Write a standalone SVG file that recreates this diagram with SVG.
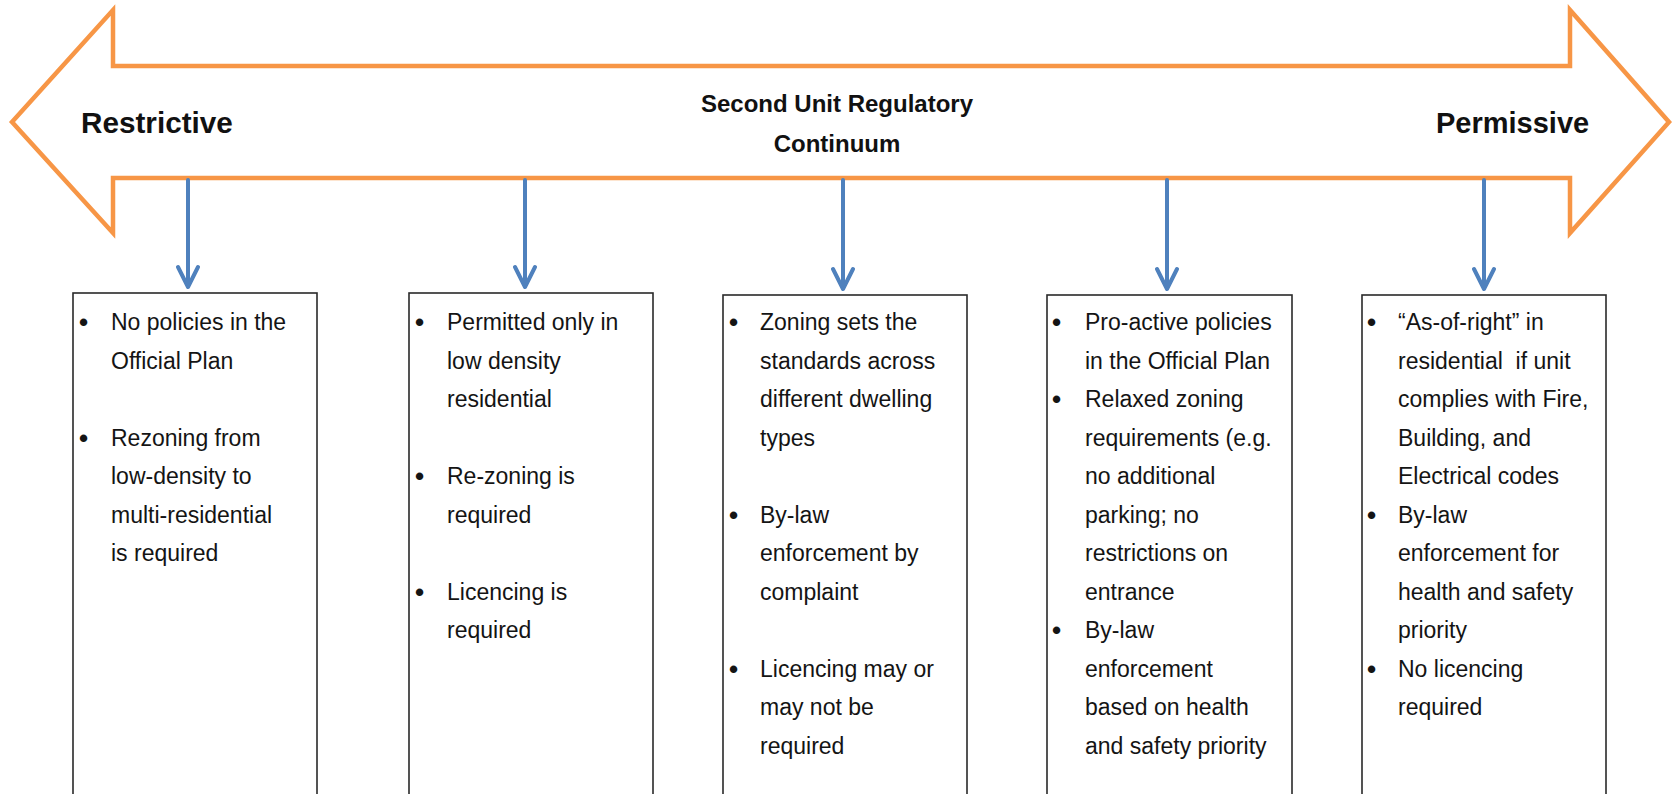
<svg xmlns="http://www.w3.org/2000/svg" width="1674" height="794" viewBox="0 0 1674 794">
<defs>
<style>
.band{fill:#ffffff;stroke:#F79646;stroke-width:4.5;stroke-linejoin:miter}
.lbl{font-family:"Liberation Sans",Arial,sans-serif;font-weight:bold;fill:#111111}
.box{fill:#ffffff;stroke:#2a2a2a;stroke-width:1.6}
.txt{font-family:"Liberation Sans",Arial,sans-serif;font-size:23px;fill:#141414}
.b{font-weight:bold;font-size:26px}
.conn{stroke:#4F81BD;stroke-width:4;fill:none;stroke-linecap:round;stroke-linejoin:round}
</style>
</defs>
<rect width="1674" height="794" fill="#ffffff"/>
<g id="continuum">
<polygon class="band" points="12,122 113,10 113,66 1570,66 1570,10 1669,122 1570,233 1570,178 113,178 113,233"/>
<text class="lbl" x="81" y="133" font-size="29.7">Restrictive</text>
<text class="lbl" x="1436" y="133" font-size="29">Permissive</text>
<text class="lbl" x="837" y="112" font-size="24" text-anchor="middle">Second Unit Regulatory</text>
<text class="lbl" x="837" y="152" font-size="24" text-anchor="middle">Continuum</text>
</g>
<g id="connectors">
<path class="conn" d="M188,180 V287 M178,267 L188,287 L198,267"/>
<path class="conn" d="M525,180 V287 M515,267 L525,287 L535,267"/>
<path class="conn" d="M843,180 V289 M833,269 L843,289 L853,269"/>
<path class="conn" d="M1167,180 V289 M1157,269 L1167,289 L1177,269"/>
<path class="conn" d="M1484,180 V289 M1474,269 L1484,289 L1494,269"/>
</g>
<g id="box1">
<rect class="box" x="73" y="293" width="244" height="520"/>
<g class="txt">
<text class="b" x="79" y="331">•</text><text x="111" y="330">No policies in the</text>
<text x="111" y="368.5">Official Plan</text>
<text class="b" x="79" y="446.5">•</text><text x="111" y="445.5">Rezoning from</text>
<text x="111" y="484">low-density to</text>
<text x="111" y="522.5">multi-residential</text>
<text x="111" y="561">is required</text>
</g>
</g>
<g id="box2">
<rect class="box" x="409" y="293" width="244" height="520"/>
<g class="txt">
<text class="b" x="415" y="331">•</text><text x="447" y="330">Permitted only in</text>
<text x="447" y="368.5">low density</text>
<text x="447" y="407">residential</text>
<text class="b" x="415" y="485">•</text><text x="447" y="484">Re-zoning is</text>
<text x="447" y="522.5">required</text>
<text class="b" x="415" y="600.5">•</text><text x="447" y="599.5">Licencing is</text>
<text x="447" y="638">required</text>
</g>
</g>
<g id="box3">
<rect class="box" x="723" y="295" width="244" height="520"/>
<g class="txt">
<text class="b" x="729" y="331">•</text><text x="760" y="330">Zoning sets the</text>
<text x="760" y="368.5">standards across</text>
<text x="760" y="407">different dwelling</text>
<text x="760" y="445.5">types</text>
<text class="b" x="729" y="523.5">•</text><text x="760" y="522.5">By-law</text>
<text x="760" y="561">enforcement by</text>
<text x="760" y="599.5">complaint</text>
<text class="b" x="729" y="677.5">•</text><text x="760" y="676.5">Licencing may or</text>
<text x="760" y="715">may not be</text>
<text x="760" y="753.5">required</text>
</g>
</g>
<g id="box4">
<rect class="box" x="1047" y="295" width="245" height="520"/>
<g class="txt">
<text class="b" x="1052" y="331">•</text><text x="1085" y="330">Pro-active policies</text>
<text x="1085" y="368.5">in the Official Plan</text>
<text class="b" x="1052" y="408">•</text><text x="1085" y="407">Relaxed zoning</text>
<text x="1085" y="445.5">requirements (e.g.</text>
<text x="1085" y="484">no additional</text>
<text x="1085" y="522.5">parking; no</text>
<text x="1085" y="561">restrictions on</text>
<text x="1085" y="599.5">entrance</text>
<text class="b" x="1052" y="639">•</text><text x="1085" y="638">By-law</text>
<text x="1085" y="676.5">enforcement</text>
<text x="1085" y="715">based on health</text>
<text x="1085" y="753.5">and safety priority</text>
</g>
</g>
<g id="box5">
<rect class="box" x="1362" y="295" width="244" height="520"/>
<g class="txt">
<text class="b" x="1367" y="331">•</text><text x="1398" y="330">“As-of-right” in</text>
<text x="1398" y="368.5" xml:space="preserve">residential  if unit</text>
<text x="1398" y="407">complies with Fire,</text>
<text x="1398" y="445.5">Building, and</text>
<text x="1398" y="484">Electrical codes</text>
<text class="b" x="1367" y="523.5">•</text><text x="1398" y="522.5">By-law</text>
<text x="1398" y="561">enforcement for</text>
<text x="1398" y="599.5">health and safety</text>
<text x="1398" y="638">priority</text>
<text class="b" x="1367" y="677.5">•</text><text x="1398" y="676.5">No licencing</text>
<text x="1398" y="715">required</text>
</g>
</g>
</svg>
